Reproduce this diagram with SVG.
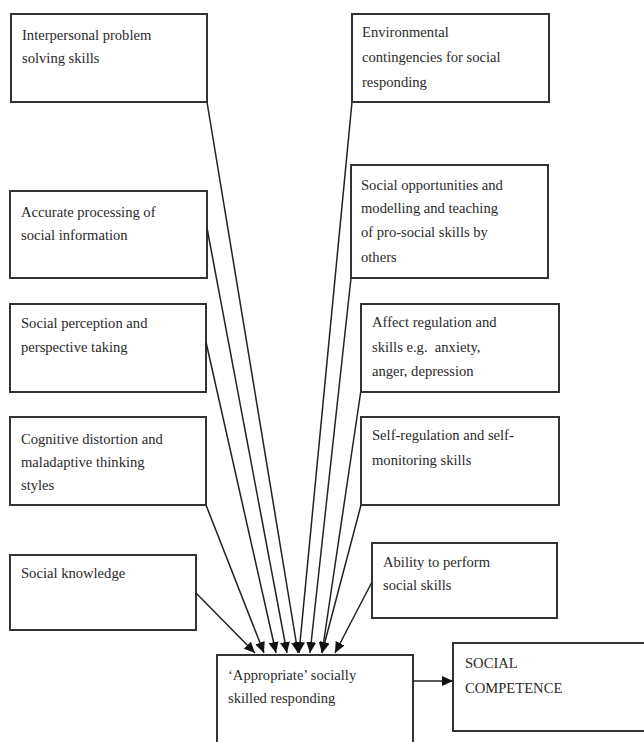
<svg xmlns="http://www.w3.org/2000/svg" width="644" height="742" viewBox="0 0 644 742">
<style>
.box{fill:#fff;stroke:#333;stroke-width:2}
.t{font-family:"Liberation Serif","Times New Roman",serif;font-size:14.6px;fill:#2a2a2a;white-space:pre}
.c{stroke:#222;stroke-width:1.5;fill:none}
</style>
<defs>
<marker id="ah" markerUnits="userSpaceOnUse" markerWidth="12" markerHeight="10" refX="11" refY="5" orient="auto">
<path d="M0,0 L11,5 L0,10 Z" fill="#111"/>
</marker>
</defs>
<rect width="644" height="742" fill="#fff"/>
<g id="n-interpersonal"><rect class="box" x="11" y="14" width="196" height="88"/><text class="t" x="22" y="40">Interpersonal problem</text><text class="t" x="22" y="63">solving skills</text></g>
<g id="n-accurate"><rect class="box" x="10" y="191" width="197" height="87"/><text class="t" x="21" y="217">Accurate processing of</text><text class="t" x="21" y="240">social information</text></g>
<g id="n-perception"><rect class="box" x="10" y="304" width="196" height="88"/><text class="t" x="21" y="328">Social perception and</text><text class="t" x="21" y="352">perspective taking</text></g>
<g id="n-cognitive"><rect class="box" x="10" y="417" width="196" height="88"/><text class="t" x="21" y="444">Cognitive distortion and</text><text class="t" x="21" y="467">maladaptive thinking</text><text class="t" x="21" y="490">styles</text></g>
<g id="n-knowledge"><rect class="box" x="10" y="555" width="186" height="75"/><text class="t" x="21" y="578">Social knowledge</text></g>
<g id="n-environmental"><rect class="box" x="352" y="14" width="197" height="88"/><text class="t" x="362" y="37">Environmental</text><text class="t" x="362" y="62">contingencies for social</text><text class="t" x="362" y="87">responding</text></g>
<g id="n-opportunities"><rect class="box" x="351" y="165" width="197" height="113"/><text class="t" x="361" y="190">Social opportunities and</text><text class="t" x="361" y="213">modelling and teaching</text><text class="t" x="361" y="237">of pro-social skills by</text><text class="t" x="361" y="262">others</text></g>
<g id="n-affect"><rect class="box" x="361" y="304" width="198" height="88"/><text class="t" x="372" y="327">Affect regulation and</text><text class="t" x="372" y="352" xml:space="preserve">skills e.g.  anxiety,</text><text class="t" x="372" y="376">anger, depression</text></g>
<g id="n-selfreg"><rect class="box" x="361" y="417" width="198" height="88"/><text class="t" x="372" y="440">Self-regulation and self-</text><text class="t" x="372" y="465">monitoring skills</text></g>
<g id="n-ability"><rect class="box" x="372" y="543" width="185" height="75"/><text class="t" x="383" y="567">Ability to perform</text><text class="t" x="383" y="590">social skills</text></g>
<g id="n-appropriate"><rect class="box" x="217" y="655" width="196" height="100"/><text class="t" x="228" y="680">‘Appropriate’ socially</text><text class="t" x="228" y="703">skilled responding</text></g>
<g id="n-competence"><rect class="box" x="453" y="643" width="200" height="88"/><text class="t" x="465" y="668">SOCIAL</text><text class="t" x="465" y="693">COMPETENCE</text></g>
<g id="connectors">
<line class="c" x1="196" y1="593" x2="255" y2="653" marker-end="url(#ah)"/>
<line class="c" x1="206" y1="505" x2="264" y2="653" marker-end="url(#ah)"/>
<line class="c" x1="206" y1="342" x2="276" y2="653" marker-end="url(#ah)"/>
<line class="c" x1="207" y1="228" x2="287" y2="653" marker-end="url(#ah)"/>
<line class="c" x1="207" y1="102" x2="298" y2="653" marker-end="url(#ah)"/>
<line class="c" x1="352" y1="102" x2="299" y2="653" marker-end="url(#ah)"/>
<line class="c" x1="351" y1="278" x2="310" y2="653" marker-end="url(#ah)"/>
<line class="c" x1="361" y1="390" x2="322" y2="653" marker-end="url(#ah)"/>
<line class="c" x1="361" y1="505" x2="322" y2="653" marker-end="url(#ah)"/>
<line class="c" x1="372" y1="582" x2="335" y2="653" marker-end="url(#ah)"/>
<line class="c" x1="413" y1="681" x2="453" y2="681" marker-end="url(#ah)"/>
</g>
</svg>
